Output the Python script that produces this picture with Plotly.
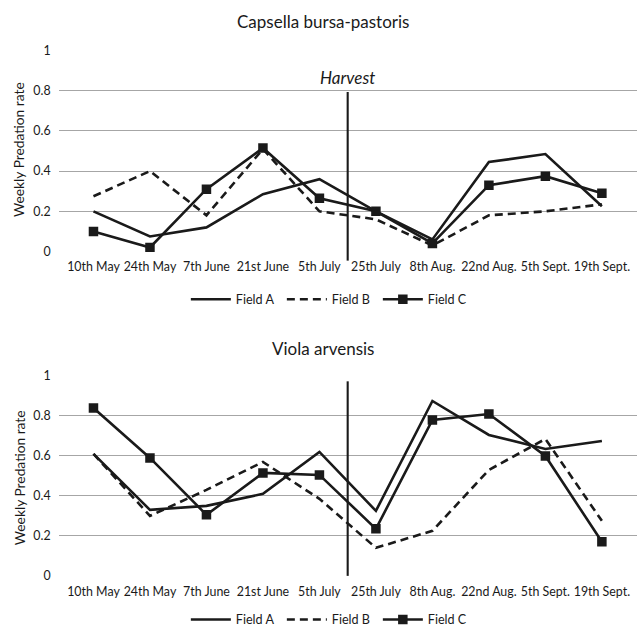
import plotly.graph_objects as go
from plotly.subplots import make_subplots

dates = ["10th May", "24th May", "7th June", "21st June", "5th July",
         "25th July", "8th Aug.", "22nd Aug.", "5th Sept.", "19th Sept."]

cap_a = [0.20, 0.075, 0.12, 0.285, 0.36, 0.20, 0.06, 0.445, 0.485, 0.225]
cap_b = [0.275, 0.40, 0.18, 0.51, 0.20, 0.16, 0.03, 0.18, 0.20, 0.235]
cap_c = [0.10, 0.02, 0.31, 0.515, 0.265, 0.20, 0.04, 0.33, 0.375, 0.29]

vio_a = [0.61, 0.33, 0.35, 0.41, 0.62, 0.325, 0.875, 0.705, 0.635, 0.675]
vio_b = [0.61, 0.30, 0.43, 0.57, 0.385, 0.14, 0.225, 0.53, 0.685, 0.275]
vio_c = [0.84, 0.59, 0.305, 0.515, 0.505, 0.235, 0.78, 0.81, 0.60, 0.17]

y_ticks = [0, 0.2, 0.4, 0.6, 0.8, 1]
y_tick_text = ["0", "0.2", "0.4", "0.6", "0.8", "1"]

FONT = "Lato"
INK = "#1a1a1a"

fig = make_subplots(rows=2, cols=1)

def add_series(row, a, b, c, legend):
    fig.add_trace(go.Scatter(x=dates, y=a, mode="lines", name="Field A",
                             line=dict(color=INK, width=2.6),
                             legend=legend), row=row, col=1)
    fig.add_trace(go.Scatter(x=dates, y=b, mode="lines", name="Field B",
                             line=dict(color=INK, width=2.6, dash="8px,5px"),
                             legend=legend), row=row, col=1)
    fig.add_trace(go.Scatter(x=dates, y=c, mode="lines+markers", name="Field C",
                             line=dict(color=INK, width=2.6),
                             marker=dict(symbol="square", size=9.5, color=INK),
                             legend=legend), row=row, col=1)

add_series(1, cap_a, cap_b, cap_c, "legend")
add_series(2, vio_a, vio_b, vio_c, "legend2")

axis_common_x = dict(type="category", showgrid=False, zeroline=False, showline=False,
                     ticks="", tickfont=dict(family=FONT, size=12.4, color=INK),
                     ticklabelstandoff=6, domain=[0.0919, 0.998])
axis_common_y = dict(range=[-0.002, 1.002], tickvals=y_ticks, ticktext=y_tick_text,
                     showgrid=True, gridcolor="#a6a6a6", gridwidth=1.1,
                     zeroline=False, showline=False, ticks="",
                     tickfont=dict(family=FONT, size=12.4, color=INK),
                     ticklabelstandoff=7)

fig.update_xaxes(**axis_common_x)
fig.update_yaxes(**axis_common_y)
fig.update_yaxes(domain=[0.6037, 0.9302], row=1, col=1)
fig.update_yaxes(domain=[0.0790, 0.4035], row=2, col=1)

# Harvest vertical lines between 5th July and 25th July
fig.add_shape(type="line", xref="x", yref="paper", x0=4.5, x1=4.5,
              y0=0.5896, y1=0.8625, line=dict(color=INK, width=2.1))
fig.add_shape(type="line", xref="x2", yref="paper", x0=4.5, x1=4.5,
              y0=0.0795, y1=0.3943, line=dict(color=INK, width=2.1))

annotations = [
    dict(text="Capsella bursa-pastoris", x=0.5064, y=0.977, xref="paper", yref="paper",
         xanchor="center", yanchor="middle",
         showarrow=False, font=dict(family=FONT, size=17, color=INK)),
    dict(text="Viola arvensis", x=0.5064, y=0.4476, xref="paper", yref="paper",
         xanchor="center", yanchor="middle",
         showarrow=False, font=dict(family=FONT, size=17, color=INK)),
    dict(text="<i>Harvest</i>", x=4.5, y=0.8866, xref="x", yref="paper",
         xanchor="center", yanchor="middle",
         showarrow=False, font=dict(family=FONT, size=17, color=INK)),
    dict(text="Weekly Predation rate", x=0.030, y=0.7688, xref="paper", yref="paper",
         xanchor="center", yanchor="middle",
         textangle=-90, showarrow=False, font=dict(family=FONT, size=13.8, color=INK)),
    dict(text="Weekly Predation rate", x=0.030, y=0.2378, xref="paper", yref="paper",
         xanchor="center", yanchor="middle",
         textangle=-90, showarrow=False, font=dict(family=FONT, size=13.8, color=INK)),
]

legend_style = dict(orientation="h", xanchor="center", x=0.517, yanchor="middle",
                    font=dict(family=FONT, size=12.6, color=INK), bgcolor="rgba(0,0,0,0)",
                    itemwidth=40, entrywidth=41, entrywidthmode="pixels", tracegroupgap=0)

fig.update_layout(
    width=638, height=635,
    margin=dict(l=0, r=0, t=0, b=0),
    paper_bgcolor="white", plot_bgcolor="white",
    annotations=annotations,
    legend=dict(**legend_style, y=0.5266),
    legend2=dict(**legend_style, y=0.0085),
)

fig.write_html(
    "out.html",
    config={"displayModeBar": False},
    post_script="document.body.style.margin='0';document.body.style.overflow='hidden';",
)
